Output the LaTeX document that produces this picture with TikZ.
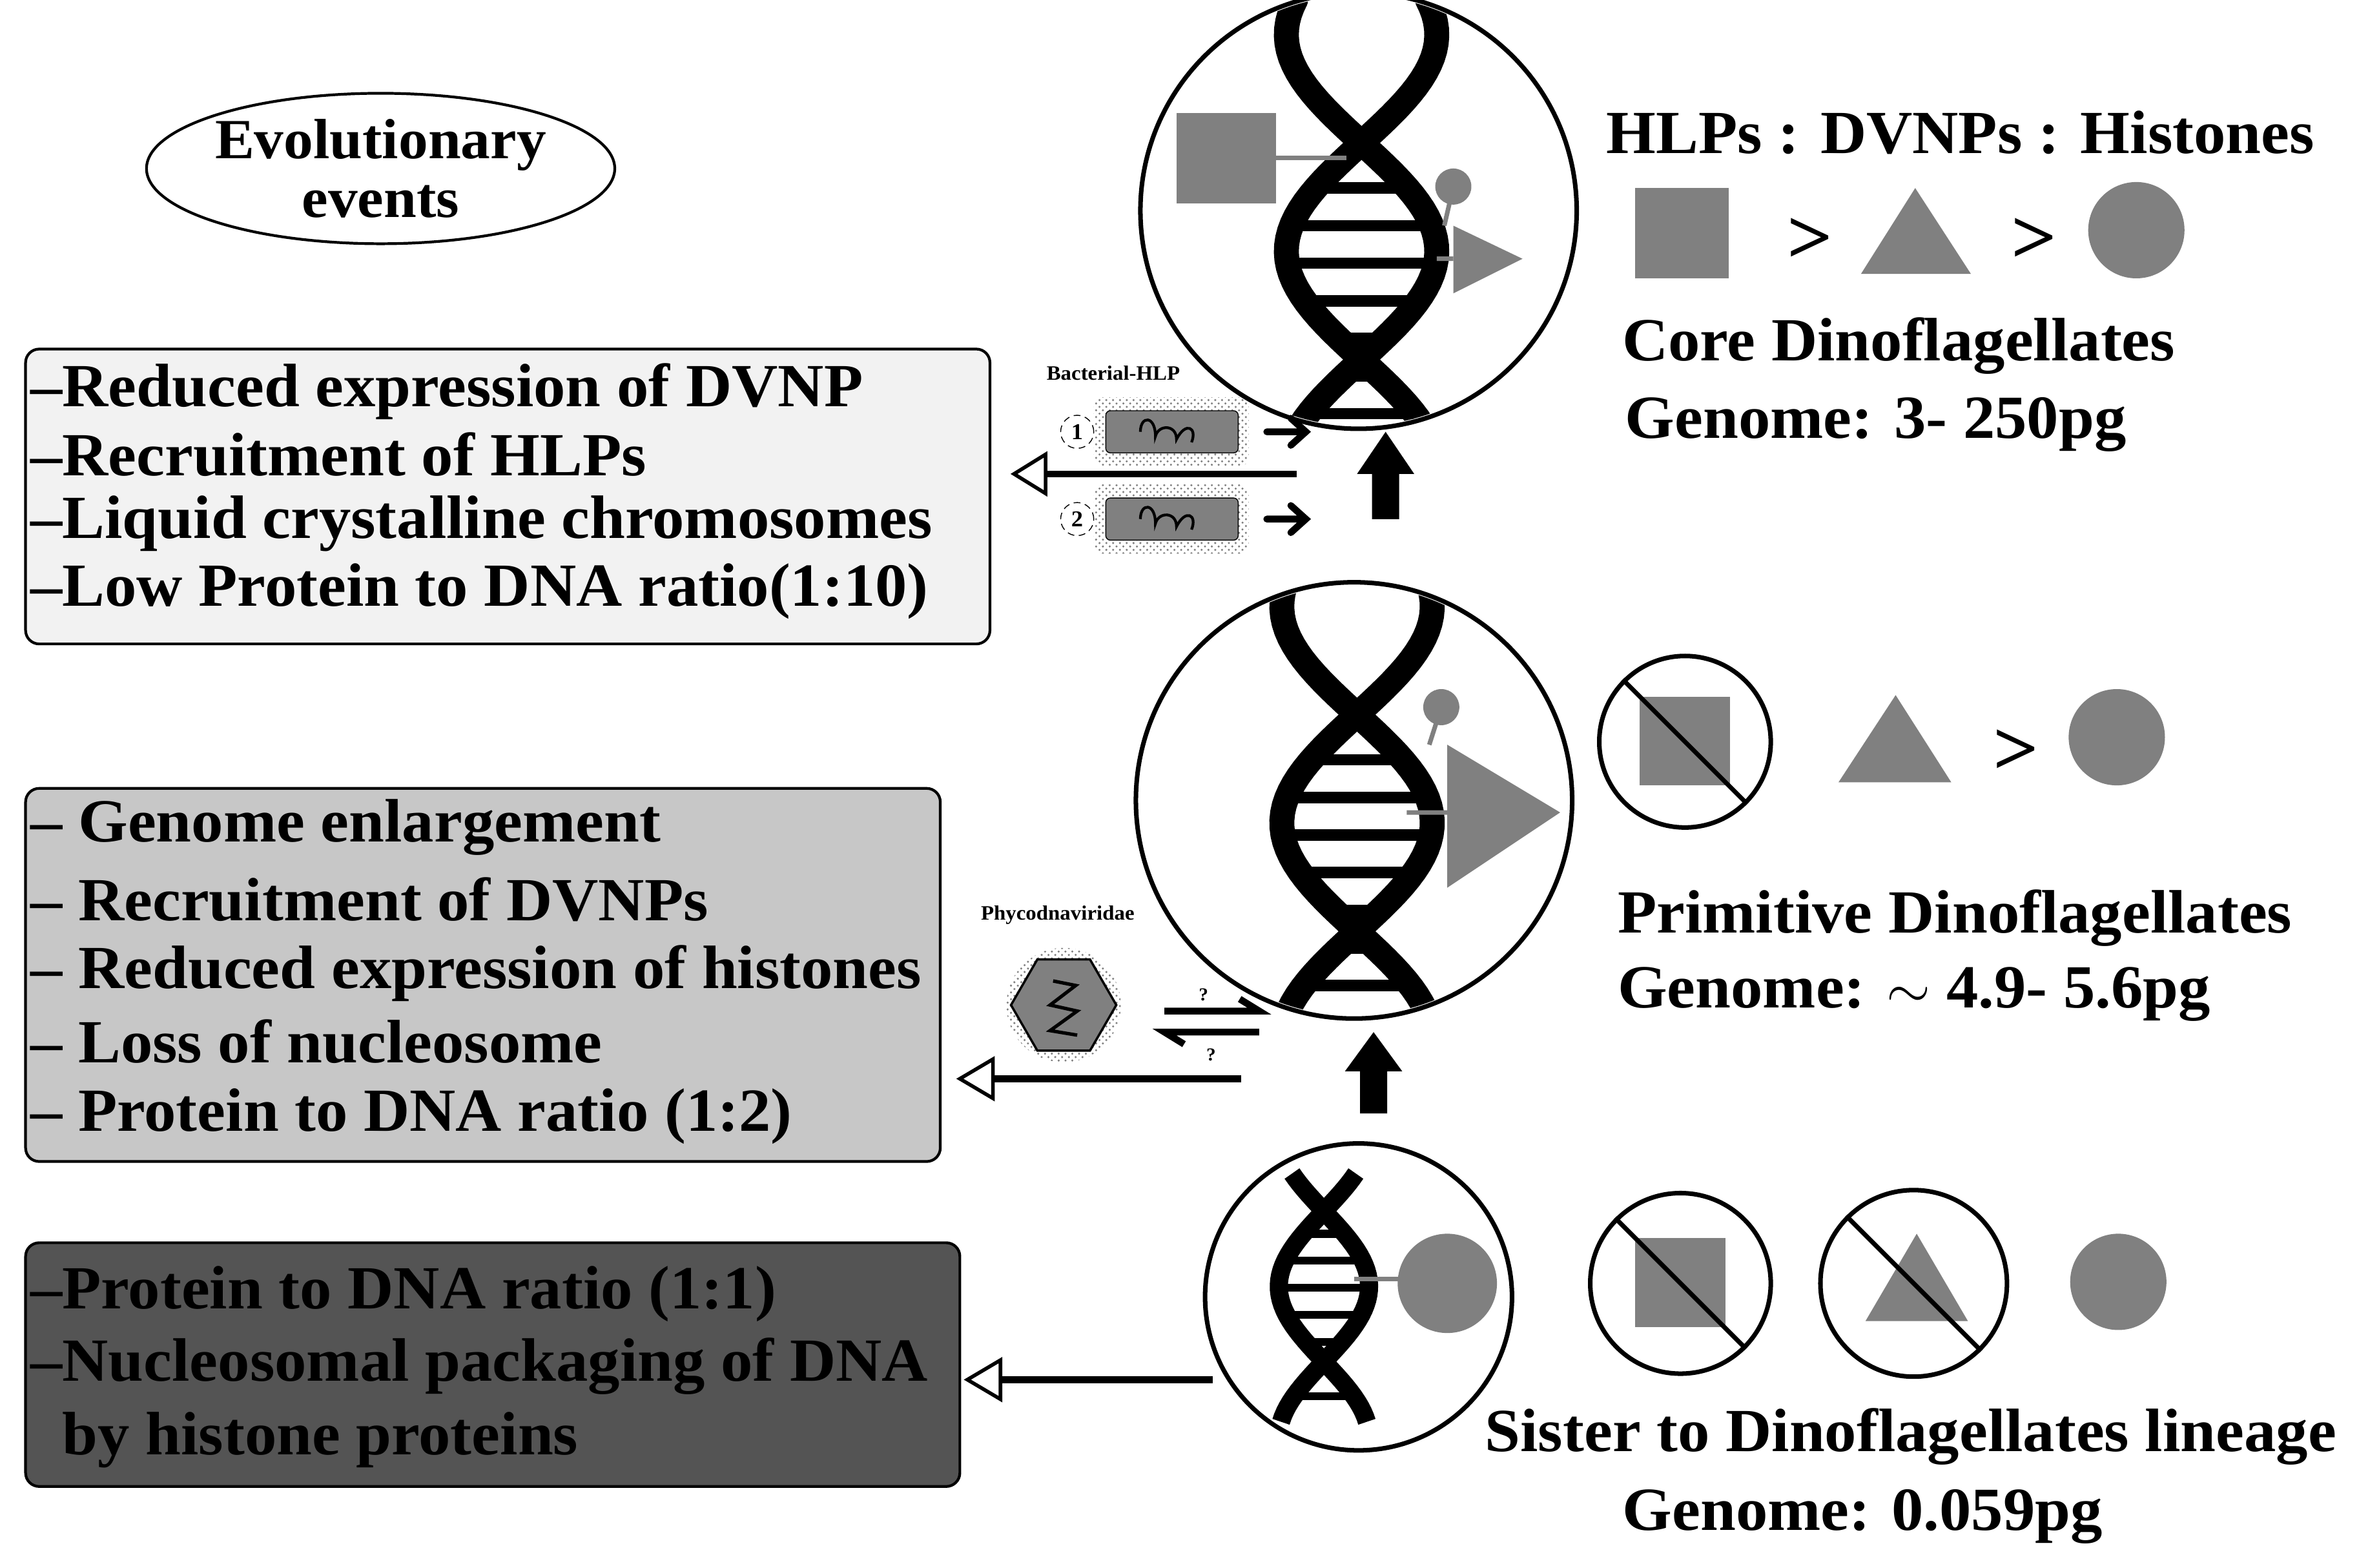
\documentclass[tikz,border=0pt]{standalone}
\usepackage{fontspec}
\setmainfont[FakeStretch=1.04]{Liberation Serif}
\usetikzlibrary{patterns,shapes.geometric}
\definecolor{sg}{HTML}{808080}
\tikzset{
 big/.style={font=\bfseries\fontsize{27}{30}\selectfont, inner sep=0pt},
 lst/.style={big, anchor=west},
 sml/.style={font=\bfseries\fontsize{9}{10}\selectfont, inner sep=0pt},
 box/.style={draw=black, line width=1.2pt, rounded corners=6pt},
 cell/.style={draw=black, line width=2pt},
 prot/.style={fill=sg, draw=none},
 nosym/.style={draw=black, line width=2pt, circle, minimum size=#1},
 strand/.style={line width=11pt, line cap=round},
 rung/.style={line width=5pt},
 hollow/.style={draw=black, line width=1.6pt, fill=white},
 shaft/.style={line width=3pt},
 aura/.style={pattern=crosshatch dots, pattern color=gray},
 gt/.style={font=\bfseries\fontsize{34}{34}\selectfont, inner sep=0pt},
}
\begin{document}
\begin{tikzpicture}[x=0.0233cm,y=-0.0233cm]
\useasboundingbox (0,0) rectangle (1568,1042);
% title ellipse
\node[draw, line width=1.2pt, ellipse, minimum width=290*0.0233cm, minimum height=100*0.0233cm, align=center, inner sep=0pt, font=\bfseries\fontsize{25}{26}\selectfont] (ev) at (253,112) {Evolutionary\\events};
% boxes
\draw[box, fill=black!5] (17,232) rectangle (658,428);
\node[lst] (a1) at (20,260) {–Reduced expression of DVNP};
\node[lst] (a2) at (20,302) {–Recruitment of HLPs};
\node[lst] (a3) at (20,348) {–Liquid crystalline chromosomes};
\node[lst] (a4) at (20,393) {–Low Protein to DNA ratio(1:10)};
\draw[box, fill=black!22] (17,524) rectangle (625,772);
\node[lst] (b1) at (20,550) {– Genome enlargement};
\node[lst] (b2) at (20,598) {– Recruitment of DVNPs};
\node[lst] (b3) at (20,647) {– Reduced expression of histones};
\node[lst] (b4) at (20,692) {– Loss of nucleosome};
\node[lst] (b5) at (20,742) {– Protein to DNA ratio (1:2)};
\draw[box, fill=black!67] (17,826) rectangle (638,988);
\node[lst] (c1) at (20,860) {–Protein to DNA ratio (1:1)};
\node[lst] (c2) at (20,908) {–Nucleosomal packaging of DNA};
\node[lst] (c3) at (20,957) {\ \ by histone proteins};
% cells
\draw[cell] (903,140) circle (145);
\draw[cell] (900,532) circle (145);
\draw[cell] (903,862) circle (102);
% helix 1
\begin{scope}
\clip (903,140) circle (143);
\foreach \y in {125,150,...,275} \draw[rung] ({905-50*sin((\y-95)*1.25)},\y) -- ({905+50*sin((\y-95)*1.25)},\y);
\draw[strand] plot[domain=0:283,samples=60] ({905+50*sin((\x-95)*1.25)},\x);
\draw[strand] plot[domain=0:283,samples=60] ({905-50*sin((\x-95)*1.25)},\x);
\end{scope}
\draw[sg, line width=2pt] (848,105) -- (895,105);
\fill[prot] (782,75) rectangle (848,135);
\draw[sg, line width=2pt] (966,124) -- (960,150) (955,172) -- (966,172);
\fill[prot] (966,124) circle (12);
\fill[prot] (966,150) -- (1012,172) -- (966,195) -- cycle;
% helix 2
\begin{scope}
\clip (900,532) circle (143);
\foreach \y in {505,530,...,665} \draw[rung] ({902-50*sin((\y-475)*1.25)},\y) -- ({902+50*sin((\y-475)*1.25)},\y);
\draw[strand] plot[domain=390:676,samples=60] ({902+50*sin((\x-475)*1.25)},\x);
\draw[strand] plot[domain=390:676,samples=60] ({902-50*sin((\x-475)*1.25)},\x);
\end{scope}
\draw[sg, line width=2pt] (958,470) -- (950,495) (935,540) -- (962,540);
\fill[prot] (958,470) circle (12);
\fill[prot] (962,495) -- (1037,540) -- (962,590) -- cycle;
% helix 3
\begin{scope}
\clip (903,862) circle (100);
\foreach \y in {820,838,...,940} \draw[line width=3.5pt] ({880-30*sin((\y-805)*1.8)},\y) -- ({880+30*sin((\y-805)*1.8)},\y);
\draw[line width=8pt] plot[domain=780:945,samples=50] ({880+30*sin((\x-805)*1.8)},\x);
\draw[line width=8pt] plot[domain=780:945,samples=50] ({880-30*sin((\x-805)*1.8)},\x);
\end{scope}
\draw[sg, line width=2pt] (900,850) -- (935,850);
\fill[prot] (962,853) circle (33);
% right side legend
\node[big] (hdr) at (1303,88) {HLPs : DVNPs : Histones};
\fill[prot] (1087,125) rectangle (1149,185);
\node[gt] (g1) at (1203,160) {>};
\fill[prot] (1237,182) -- (1310,182) -- (1273,125) -- cycle;
\node[gt] (g2) at (1352,160) {>};
\fill[prot] (1420,153) circle (32);
\node[lst] (core) at (1078,230) {Core Dinoflagellates};
\node[lst] (cg) at (1080,282) {Genome: 3- 250pg};
% row 2
\fill[prot] (1090,463) rectangle (1150,522);
\node[nosym=114*0.0233cm] (n1) at (1120,493) {};
\draw[line width=2pt] (n1.north west) -- (n1.south east);
\fill[prot] (1222,520) -- (1297,520) -- (1260,462) -- cycle;
\node[gt] (g3) at (1340,500) {>};
\fill[prot] (1407,490) circle (32);
\node[lst] (prim) at (1075,610) {Primitive Dinoflagellates};
\node[lst] (pg) at (1075,661) {Genome: $\sim$ 4.9- 5.6pg};
% row 3
\fill[prot] (1087,823) rectangle (1147,882);
\node[nosym=120*0.0233cm] (n2) at (1117,853) {};
\draw[line width=2pt] (n2.north west) -- (n2.south east);
\fill[prot] (1240,878) -- (1308,878) -- (1274,820) -- cycle;
\node[nosym=124*0.0233cm] (n3) at (1272,853) {};
\draw[line width=2pt] (n3.north west) -- (n3.south east);
\fill[prot] (1408,852) circle (32);
\node[big] (sis) at (1270,955) {Sister to Dinoflagellates lineage};
\node[big] (sg3) at (1238,1008) {Genome: 0.059pg};
% bacterial HLP
\node[sml] (bl) at (740,248) {Bacterial-HLP};
\fill[aura, rounded corners=4pt] (727,264) rectangle (830,310);
\fill[aura, rounded corners=4pt] (727,322) rectangle (830,368);
\node[draw, fill=sg, rounded corners=2pt, minimum width=88*0.0233cm, minimum height=28*0.0233cm] (p1) at (779,287) {};
\node[draw, fill=sg, rounded corners=2pt, minimum width=88*0.0233cm, minimum height=28*0.0233cm] (p2) at (779,345) {};
\draw[line width=1.2pt] (758,287) .. controls (758,276) and (768,276) .. (768,290) .. controls (770,282) and (782,282) .. (782,292) .. controls (788,280) and (796,284) .. (792,294);
\draw[line width=1.2pt] (758,345) .. controls (758,334) and (768,334) .. (768,348) .. controls (770,340) and (782,340) .. (782,350) .. controls (788,338) and (796,342) .. (792,352);
\node[circle, draw, densely dashed, fill=white, inner sep=1pt, font=\bfseries\fontsize{10}{10}\selectfont, minimum size=22*0.0233cm] (k1) at (716,287) {1};
\node[circle, draw, densely dashed, fill=white, inner sep=1pt, font=\bfseries\fontsize{10}{10}\selectfont, minimum size=22*0.0233cm] (k2) at (716,345) {2};
\coordinate (r1a) at (842,287); \coordinate (r1b) at (868,287);
\coordinate (r2a) at (842,345); \coordinate (r2b) at (868,345);
\draw[shaft, line cap=round] (r1a) -- (r1b) (858,278) -- (r1b) -- (858,296);
\draw[shaft, line cap=round] (r2a) -- (r2b) (858,336) -- (r2b) -- (858,354);
\coordinate (h1s) at (862,315); \coordinate (h1e) at (695,315);
\draw[shaft] (h1s) -- (h1e);
\draw[hollow] (695,307) -- (695,302) -- (674,315) -- (695,328) -- (695,323) -- cycle;
\fill (912,345) -- (912,315) -- (902,315) -- (921,287) -- (940,315) -- (930,315) -- (930,345) -- cycle;
% phycodnaviridae
\node[sml] (phl) at (703,608) {Phycodnaviridae};
\fill[aura] (707,668) circle (38);
\node[regular polygon, regular polygon sides=6, draw, line width=1pt, fill=sg, minimum size=70*0.0233cm, inner sep=0pt] (hex) at (707,668) {};
\draw[line width=1.5pt] (700,652) -- (715,655) -- (698,668) -- (716,672) -- (698,685) -- (716,688);
\coordinate (e1a) at (774,672); \coordinate (e1b) at (837,672);
\draw[line width=3pt] (e1a) -- (e1b) -- (824,664);
\coordinate (e2a) at (837,686); \coordinate (e2b) at (774,686);
\draw[line width=3pt] (e2a) -- (e2b) -- (787,694);
\node[font=\bfseries\fontsize{8}{8}\selectfont] (q1) at (800,661) {?};
\node[font=\bfseries\fontsize{8}{8}\selectfont] (q2) at (805,701) {?};
\coordinate (h2s) at (825,717); \coordinate (h2e) at (660,717);
\draw[shaft] (h2s) -- (h2e);
\draw[hollow] (660,709) -- (660,704) -- (638,717) -- (660,730) -- (660,725) -- cycle;
\fill (904,740) -- (904,712) -- (894,712) -- (913,686) -- (932,712) -- (922,712) -- (922,740) -- cycle;
% bottom arrow
\coordinate (h3s) at (806,917); \coordinate (h3e) at (665,917);
\draw[shaft] (h3s) -- (h3e);
\draw[hollow] (665,909) -- (665,904) -- (643,917) -- (665,930) -- (665,925) -- cycle;
\end{tikzpicture}
\end{document}
